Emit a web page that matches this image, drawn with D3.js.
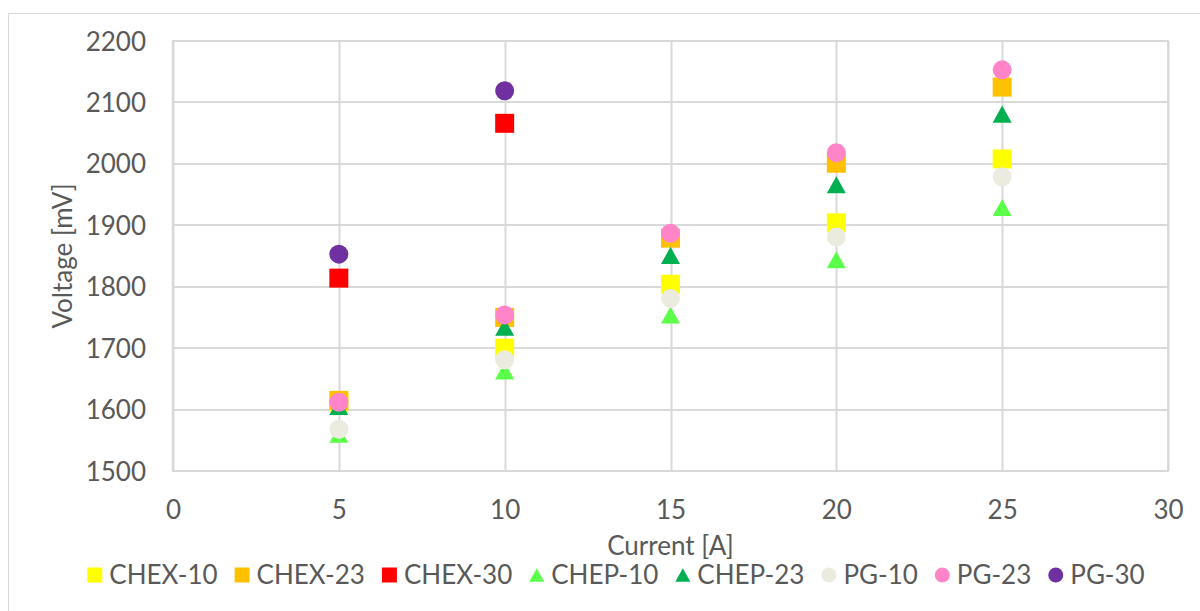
<!DOCTYPE html>
<html>
<head>
<meta charset="utf-8">
<script src="https://cdn.jsdelivr.net/npm/d3@7"></script>
<style>
  html, body { margin: 0; padding: 0; background: #fff; }
  svg { display: block; font-family: Lato, "Open Sans", sans-serif; }
</style>
</head>
<body>
<svg id="chart" width="1200" height="611"></svg>
<script>
// Measured cell voltage vs. current for each membrane / temperature case
const currents = [5, 10, 15, 20, 25];
const seriesNames = ["CHEX-10", "CHEX-23", "CHEX-30", "CHEP-10", "CHEP-23", "PG-10", "PG-23", "PG-30"];
const seriesShapes = ["square", "square", "square", "triangle", "triangle", "circle", "circle", "circle"];
const seriesColors = ["#FFFF00", "#FFC000", "#FF0000", "#5CFF4A", "#00B050", "#EBEBE0", "#FF85C8", "#7030A0"];

const chex10 = [1612, 1700, 1804, 1904, 2008];
const chex23 = [1615, 1750, 1879, 2001, 2125];
const chex30 = [1814, 2066];
const chep10 = [1560, 1663, 1754, 1844, 1929];
const chep23 = [1605, 1734, 1851, 1966, 2081];
const pg10 = [1568, 1681, 1781, 1881, 1979];
const pg23 = [1612, 1754, 1887, 2018, 2153];
const pg30 = [1853, 2119];

const seriesValues = [chex10, chex23, chex30, chep10, chep23, pg10, pg23, pg30];

const xTicks = [0, 5, 10, 15, 20, 25, 30];
const yTicks = [1500, 1600, 1700, 1800, 1900, 2000, 2100, 2200];

const svg = d3.select("#chart");
const W = 1200, H = 611;
const plot = { left: 173, right: 1168, top: 41, bottom: 471 };
const textColor = "#595959";
const gridColor = "#D9D9D9";
const fontSize = 26;

// outer chart frame
svg.append("rect")
  .attr("x", 8.5).attr("y", 13.5)
  .attr("width", W).attr("height", H)
  .attr("fill", "#fff").attr("stroke", gridColor).attr("stroke-width", 1);

const x = d3.scaleLinear().domain([0, 30]).range([plot.left, plot.right]);
const y = d3.scaleLinear().domain([1500, 2200]).range([plot.bottom, plot.top]);

// gridlines
const grid = svg.append("g");
grid.selectAll("line.v").data(xTicks).join("line")
  .attr("x1", d => Math.round(x(d)) + 0.5).attr("x2", d => Math.round(x(d)) + 0.5)
  .attr("y1", plot.top).attr("y2", plot.bottom)
  .attr("stroke", gridColor).attr("stroke-width", 2);
grid.selectAll("line.h").data(yTicks).join("line")
  .attr("x1", plot.left).attr("x2", plot.right)
  .attr("y1", d => Math.round(y(d))).attr("y2", d => Math.round(y(d)))
  .attr("stroke", gridColor).attr("stroke-width", 2);

// axes (labels only, Excel style)
const xAxis = d3.axisBottom(x).tickValues(xTicks).tickFormat(d3.format("d")).tickSize(0).tickPadding(0);
const gx = svg.append("g").attr("transform", `translate(0,${plot.bottom})`).call(xAxis);
gx.select(".domain").remove();
gx.attr("font-family", null).attr("font-size", null);
gx.selectAll("text").attr("fill", textColor).attr("font-size", fontSize)
  .attr("dy", null).attr("y", 48);

const yAxis = d3.axisLeft(y).tickValues(yTicks).tickFormat(d3.format("d")).tickSize(0).tickPadding(0);
const gy = svg.append("g").attr("transform", `translate(${plot.left - 27},0)`).call(yAxis);
gy.select(".domain").remove();
gy.attr("font-family", null).attr("font-size", null);
gy.selectAll("text").attr("fill", textColor).attr("font-size", fontSize)
  .attr("dy", "0.35em").attr("x", 0);

// axis titles
svg.append("text")
  .attr("x", (plot.left + plot.right) / 2).attr("y", 555)
  .attr("text-anchor", "middle").attr("fill", textColor).attr("font-size", fontSize)
  .text("Current [A]");
svg.append("text")
  .attr("transform", `translate(72,${(plot.top + plot.bottom) / 2}) rotate(-90)`)
  .attr("text-anchor", "middle").attr("fill", textColor).attr("font-size", fontSize)
  .text("Voltage [mV]");

// marker paths centered on (0,0)
function markerPath(shape, s) {
  const h = s / 2;
  if (shape === "square") return `M${-h},${-h}H${h}V${h}H${-h}Z`;
  if (shape === "triangle") {
    const th = s * 0.9 / 2;
    return `M0,${-th}L${h},${th}L${-h},${th}Z`;
  }
  return d3.arc()({ innerRadius: 0, outerRadius: h, startAngle: 0, endAngle: 2 * Math.PI });
}

// data points
const marks = svg.append("g");
seriesValues.forEach((vals, i) => {
  marks.append("g").selectAll("path").data(vals).join("path")
    .attr("transform", (v, j) => `translate(${x(currents[j])},${y(v)})`)
    .attr("d", markerPath(seriesShapes[i], 19))
    .attr("fill", seriesColors[i]);
});

// plot-area border
svg.append("rect")
  .attr("x", plot.left - 0.5).attr("y", plot.top)
  .attr("width", plot.right - plot.left + 0.5).attr("height", plot.bottom - plot.top)
  .attr("fill", "none").attr("stroke", gridColor).attr("stroke-width", 1.5);

// legend laid out from text widths, centred under the plot
const legend = svg.append("g");
const items = seriesNames.map((name, i) => {
  const g = legend.append("g");
  g.append("path").attr("d", markerPath(seriesShapes[i], 15))
    .attr("transform", "translate(7.5,0)").attr("fill", seriesColors[i]);
  const t = g.append("text").attr("x", 22).attr("dy", "0.35em")
    .attr("fill", textColor).attr("font-size", fontSize).text(name);
  return { g, w: 22 + t.node().getComputedTextLength() };
});
const gap = 17;
const total = d3.sum(items, d => d.w) + gap * (items.length - 1);
let cx = 616 - total / 2;
items.forEach(it => {
  it.g.attr("transform", `translate(${cx},575)`);
  cx += it.w + gap;
});
</script>
</body>
</html>
